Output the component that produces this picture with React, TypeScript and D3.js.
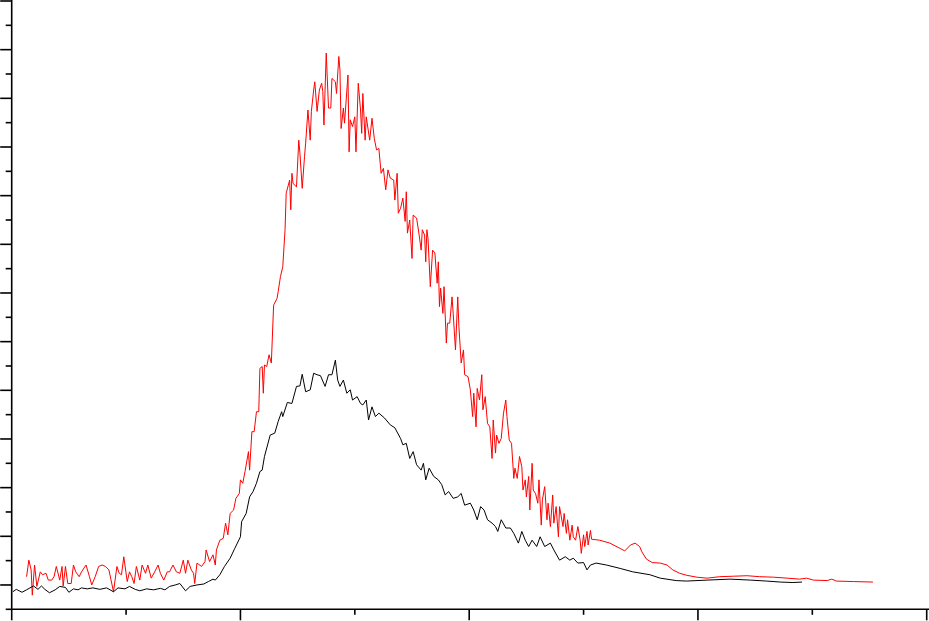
import React from "react";
import * as d3 from "d3";

const W = 929;
const H = 621;

// x: arbitrary channel units (0..800), y: intensity units (-50..1200)
const xMajorTicks = [0, 200, 400, 600, 800];
const xMinorTicks = [100, 300, 500, 700];
const yMajorTicks = [0, 100, 200, 300, 400, 500, 600, 700, 800, 900, 1000, 1100, 1200];
const yMinorTicks = [-50, 50, 150, 250, 350, 450, 550, 650, 750, 850, 950, 1050, 1150];

const blackSeries: [number, number][] = [
  [1,-14],[4,-9],[9,-15],[13,-10],[19,-2],[23,-9],[26,-2],[29,-9],[33,-16],[38,-10],[42,-3],[47,-5],[50,-15],[54,-8],[58,-10],[61,-6],[66,-8],[71,-6],[77,-9],[83,-6],[89,-14],[93,-6],[99,-8],[103,-3],[108,-9],[112,-12],[118,-8],[124,-10],[130,-7],[134,-10],[138,-3],[143,0],[147,3],[152,-12],[156,-3],[162,0],[168,2],
  [172,7],[176,12],[178,10],[182,21],[186,38],[191,55],[195,75],[200,99],[201,130],[205,147],[208,181],[211,192],[214,209],[217,233],[219,236],[221,264],[226,308],[230,312],[233,336],[236,356],[237,346],[241,375],[245,373],[249,408],[252,409],[254,433],[257,397],[261,401],[264,435],[267,432],[270,430],[274,408],[277,432],[280,432],[283,462],[285,421],[287,408],[290,421],[293,394],[296,401],[298,380],[302,387],[305,373],[307,370],[310,380],[312,339],[315,366],[318,346],[321,353],[326,343],[331,329],[335,323],[340,301],[342,288],[345,291],[348,260],[351,274],[354,247],[358,236],[360,250],[362,216],[365,240],[369,223],[373,216],[376,206],[379,185],[382,192],[386,178],[390,181],[393,188],[396,164],[401,168],[404,154],[407,134],[410,161],[413,154],[416,134],[420,127],[423,120],[425,110],[428,134],[432,117],[436,117],[439,106],[443,86],[446,110],[449,92],[452,79],[455,92],[459,79],[462,99],[466,79],[471,86],[474,72],[479,51],[484,58],[488,51],[491,55],[495,45],[500,46],[503,31],[506,41],[511,45],[520,41],[532,34],[543,27],[558,21],[567,14],[581,9],[590,8],[608,10],[628,12],[646,10],[660,8],[672,6],[683,5],[691,6],
];

const redSeries: [number, number][] = [
  [13,17],[15,51],[17,31],[18,-21],[20,41],[22,-3],[25,27],[27,21],[30,24],[32,10],[35,10],[37,17],[39,38],[42,10],[44,38],[45,-2],[47,38],[49,3],[52,3],[54,41],[56,27],[59,17],[61,27],[65,41],[68,17],[70,0],[73,17],[76,38],[79,41],[82,38],[85,31],[89,-14],[92,38],[94,24],[96,21],[98,58],[101,7],[103,27],[105,17],[107,3],[109,38],[112,10],[114,41],[117,24],[119,41],[122,14],[125,27],[128,41],[130,24],[133,10],[136,27],[138,27],[141,41],[144,27],[147,24],[150,51],[152,24],[154,51],[157,31],[159,24],[160,3],[162,45],[166,38],[169,48],
  [170,72],[173,48],[176,62],[178,41],[179,72],[182,92],[185,96],[187,127],[189,103],[191,147],[194,154],[196,178],[199,188],[200,216],[202,209],[204,233],[207,274],[208,236],[210,315],[212,315],[214,356],[216,356],[217,445],[219,449],[220,394],[221,452],[223,449],[225,473],[227,456],[229,575],[232,589],[233,603],[235,634],[237,654],[239,730],[240,805],[243,832],[244,771],[245,846],[246,825],[249,818],[251,914],[252,887],[254,815],[256,880],[257,908],[259,976],[261,914],[262,973],[264,1017],[265,1034],[267,973],[269,1017],[271,1031],[272,1014],[273,945],[275,1093],[277,980],[279,980],[280,1041],[283,1034],[284,1010],[286,1086],[287,1058],[288,938],[290,980],[291,949],[294,1048],[295,890],[296,956],[298,942],[300,962],[301,890],[303,1031],[305,976],[306,928],[307,1010],[309,914],[310,962],[313,914],[315,959],[317,918],[319,894],[321,897],[323,846],[325,856],[327,812],[329,853],[331,836],[334,832],[335,791],[337,846],[338,764],
  [340,774],[342,795],[344,747],[345,808],[346,723],[348,750],[350,671],[351,760],[354,754],[356,723],[358,688],[359,730],[361,719],[362,664],[363,730],[364,712],[366,613],[368,688],[370,682],[372,620],[373,664],[374,572],[375,610],[377,558],[378,613],[380,497],[381,538],[383,538],[385,592],[386,558],[388,483],[390,592],[391,531],[393,456],[395,483],[396,432],[399,428],[401,401],[403,346],[404,394],[406,325],[407,404],[409,380],[411,432],[412,360],[414,387],[416,332],[418,325],[420,260],[421,339],[423,271],[424,308],[426,291],[428,301],[430,353],[432,380],[433,346],[435,298],[437,291],[439,219],[440,240],[442,219],
  [444,264],[446,243],[447,195],[449,216],[450,181],[452,223],[453,154],[455,250],[456,195],[458,188],[460,168],[461,216],[463,123],[464,175],[466,202],[468,134],[469,168],[471,120],[473,185],[474,127],[476,161],[478,99],[479,161],[482,120],[483,147],[485,106],[486,134],[488,92],[490,123],[491,99],[493,92],[495,120],[497,92],[498,65],[500,103],[501,79],[503,110],[504,82],[506,112],[507,94],[514,92],[523,86],[532,75],[536,70],[541,82],[545,86],[549,79],[551,68],[555,53],[560,46],[567,45],[573,41],[578,31],[584,24],[590,20],[599,16],[608,14],[619,17],[631,18],[643,19],[654,17],[666,16],[678,14],[689,12],[695,14],[701,10],[713,9],[717,12],[721,8],[736,7],[753,6],
];

export default function App() {
  const x = d3.scaleLinear().domain([0, 800]).range([11.7, 926.7]);
  const y = d3.scaleLinear().domain([-50, 1200]).range([609.3, 1]);
  const line = d3
    .line<[number, number]>()
    .x((d) => x(d[0]))
    .y((d) => y(d[1]));

  const axisX = x(0);
  const axisY = y(-50);

  return (
    <svg
      width={W}
      height={H}
      style={{ position: "absolute", left: 0, top: 0, display: "block", background: "#fff" }}
    >
      <rect x={0} y={0} width={W} height={H} fill="#fff" />
      <path d={line(redSeries) || ""} fill="none" stroke="#ff0000" strokeWidth={1} />
      <path d={line(blackSeries) || ""} fill="none" stroke="#000" strokeWidth={1} />

      {/* y axis */}
      <line x1={axisX} x2={axisX} y1={0} y2={axisY} stroke="#000" strokeWidth={1.6} />
      {yMajorTicks.map((t) => (
        <line key={"ym" + t} x1={axisX - 11.5} x2={axisX} y1={y(t)} y2={y(t)} stroke="#000" strokeWidth={1.6} />
      ))}
      {yMinorTicks.map((t) => (
        <line key={"yn" + t} x1={axisX - 6} x2={axisX} y1={y(t)} y2={y(t)} stroke="#000" strokeWidth={1.6} />
      ))}

      {/* x axis */}
      <line x1={axisX} x2={W} y1={axisY} y2={axisY} stroke="#000" strokeWidth={1.6} />
      {xMajorTicks.map((t) => (
        <line key={"xm" + t} x1={x(t)} x2={x(t)} y1={axisY} y2={axisY + 11} stroke="#000" strokeWidth={1.6} />
      ))}
      {xMinorTicks.map((t) => (
        <line key={"xn" + t} x1={x(t)} x2={x(t)} y1={axisY} y2={axisY + 5.5} stroke="#000" strokeWidth={1.6} />
      ))}
    </svg>
  );
}
